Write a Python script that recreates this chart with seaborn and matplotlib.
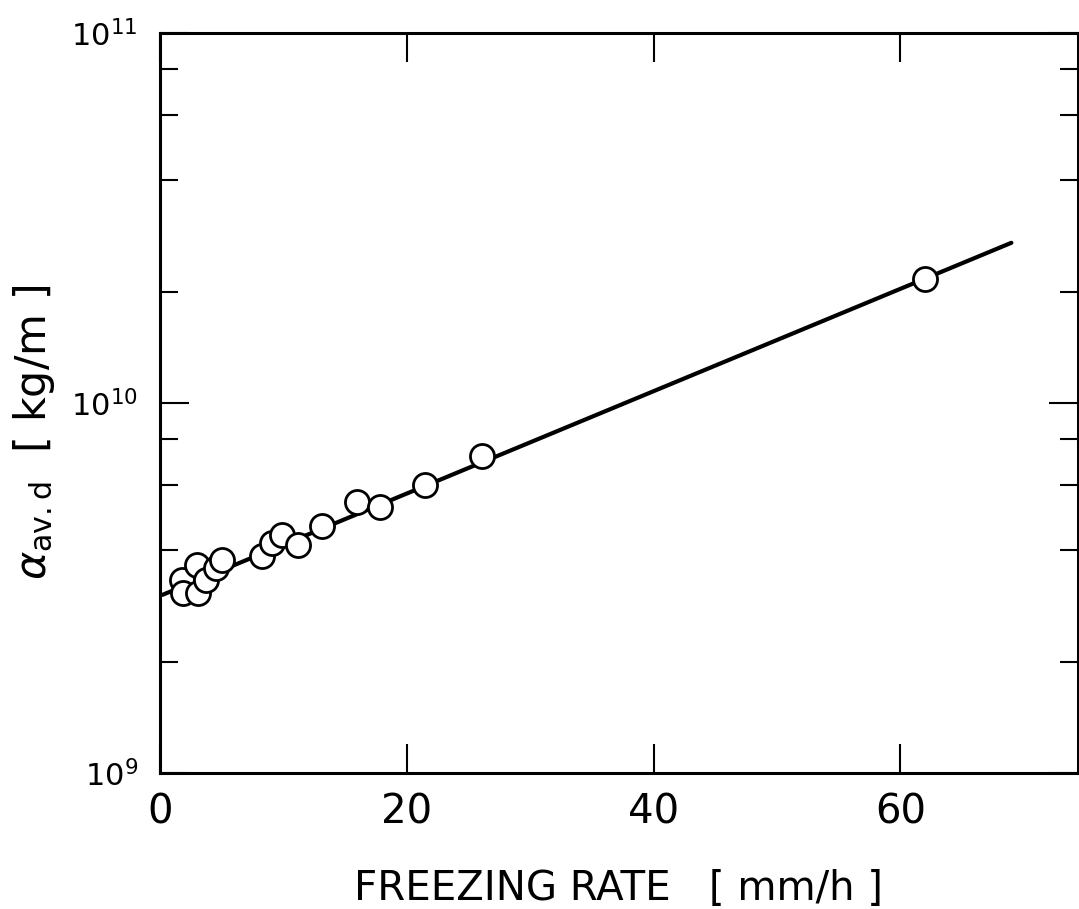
import numpy as np
import pandas as pd
import matplotlib
matplotlib.use("Agg")
import matplotlib.pyplot as plt
import matplotlib.ticker as mticker
import seaborn as sns

# measured points (freezing rate [mm/h], alpha_av.d [kg/m])
rate = [1.8, 1.9, 3.0, 3.1, 3.7, 4.5, 5.0, 8.3, 9.1, 9.9, 11.2, 13.1, 16.0, 17.8, 21.5, 26.1, 62.0]
alpha = [3.32e9, 3.07e9, 3.65e9, 3.07e9, 3.32e9, 3.58e9, 3.76e9, 3.86e9, 4.19e9,
         4.40e9, 4.13e9, 4.65e9, 5.40e9, 5.23e9, 6.00e9, 7.19e9, 2.16e10]

# fitted line end points
fit_rate = [0.2, 69.0]
fit_alpha = [3.03e9, 2.71e10]

pts = pd.DataFrame({"rate": rate, "alpha": alpha})
fit = pd.DataFrame({"rate": fit_rate, "alpha": fit_alpha})

sns.set_theme(style="ticks")
plt.rcParams['font.family'] = ['DejaVu Sans']
plt.rcParams['text.color'] = 'black'
plt.rcParams['axes.labelcolor'] = 'black'

fig = plt.figure(figsize=(10.79, 9.09), dpi=100)
ax = fig.add_axes([160 / 1079, 1 - 773 / 909, 918 / 1079, 740 / 909])

# line first so the open circles sit on top of it
sns.lineplot(data=fit, x="rate", y="alpha", color="black", linewidth=3, ax=ax)
sns.scatterplot(data=pts, x="rate", y="alpha", s=300, facecolor="white",
                edgecolor="black", linewidth=2.0, ax=ax, zorder=3)

ax.set_yscale("log")
ax.set_xlim(0, 74.4)
ax.set_ylim(1e9, 1e11)

ax.xaxis.set_major_locator(mticker.MultipleLocator(20))
ax.xaxis.set_minor_locator(mticker.NullLocator())
ax.yaxis.set_major_locator(mticker.LogLocator(base=10))
ax.yaxis.set_minor_locator(mticker.LogLocator(base=10, subs=[2, 4, 6, 8]))
ax.yaxis.set_minor_formatter(mticker.NullFormatter())

for s in ax.spines.values():
    s.set_linewidth(2.2)
    s.set_color("black")

ax.tick_params(axis="both", which="both", direction="in", top=True, right=True,
               colors="black", labelcolor="black", width=1.5)
ax.tick_params(axis="x", which="major", length=21, pad=14, labelsize=29)
ax.tick_params(axis="y", which="major", length=21, pad=16, labelsize=22)
ax.tick_params(axis="y", which="minor", length=13)

ax.set_xlabel("FREEZING RATE   [ mm/h ]", fontsize=29, labelpad=26)
ax.set_ylabel(r"$\alpha_{\mathrm{av.d}}$  [ kg/m ]", fontsize=31)
ax.yaxis.set_label_coords(-0.112, 0.46)

fig.savefig("out.png", dpi=100)
plt.close(fig)
